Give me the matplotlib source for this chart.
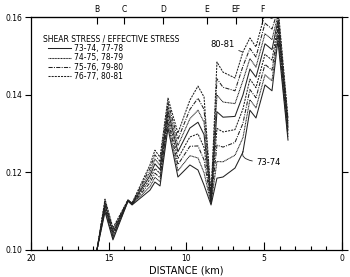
import matplotlib
matplotlib.use('Agg')
import matplotlib.pyplot as plt
from matplotlib.lines import Line2D

# distance stations along the profile (km)
distance_km = [15.76, 15.24, 14.73, 13.76, 13.50, 12.35, 12.03, 11.70, 11.19, 10.55, 9.78, 9.26,
               8.87, 8.42, 8.04, 7.65, 6.88, 6.37, 5.92, 5.53, 4.95, 4.50, 4.12, 3.47]

# shear stress / effective stress, one list per water year
s7374 = [0.100, 0.1098, 0.1026, 0.1126, 0.1116, 0.1154, 0.1175, 0.1165, 0.1314, 0.1188, 0.1219, 0.1206,
         0.1167, 0.1116, 0.1185, 0.1188, 0.1211, 0.1252, 0.1360, 0.1340, 0.1425, 0.1410, 0.1540, 0.1283]
s7475 = [0.100, 0.1103, 0.1030, 0.1126, 0.1117, 0.1163, 0.1187, 0.1176, 0.1325, 0.1204, 0.1243, 0.1237,
         0.1199, 0.1119, 0.1228, 0.1227, 0.1244, 0.1289, 0.1387, 0.1366, 0.1451, 0.1436, 0.1553, 0.1291]
s7576 = [0.100, 0.1107, 0.1035, 0.1127, 0.1117, 0.1173, 0.1198, 0.1186, 0.1336, 0.1220, 0.1267, 0.1268,
         0.1232, 0.1123, 0.1270, 0.1265, 0.1277, 0.1326, 0.1413, 0.1392, 0.1478, 0.1463, 0.1566, 0.1299]
s7677 = [0.100, 0.1112, 0.1039, 0.1127, 0.1118, 0.1182, 0.1210, 0.1197, 0.1347, 0.1236, 0.1291, 0.1299,
         0.1264, 0.1126, 0.1313, 0.1304, 0.1310, 0.1363, 0.1440, 0.1418, 0.1504, 0.1489, 0.1579, 0.1307]
s7778 = [0.100, 0.1117, 0.1044, 0.1128, 0.1119, 0.1191, 0.1222, 0.1207, 0.1358, 0.1253, 0.1314, 0.1329,
         0.1297, 0.1130, 0.1356, 0.1342, 0.1344, 0.1399, 0.1466, 0.1445, 0.1531, 0.1516, 0.1591, 0.1316]
s7879 = [0.100, 0.1121, 0.1048, 0.1128, 0.1119, 0.1200, 0.1234, 0.1218, 0.1369, 0.1269, 0.1338, 0.1360,
         0.1329, 0.1133, 0.1399, 0.1381, 0.1377, 0.1436, 0.1493, 0.1471, 0.1557, 0.1542, 0.1604, 0.1324]
s7980 = [0.100, 0.1126, 0.1053, 0.1129, 0.1120, 0.1210, 0.1245, 0.1228, 0.1380, 0.1285, 0.1362, 0.1391,
         0.1362, 0.1137, 0.1441, 0.1419, 0.1410, 0.1473, 0.1519, 0.1497, 0.1584, 0.1569, 0.1617, 0.1332]
s8081 = [0.100, 0.1131, 0.1057, 0.1129, 0.1121, 0.1219, 0.1257, 0.1239, 0.1391, 0.1301, 0.1386, 0.1422,
         0.1394, 0.1140, 0.1484, 0.1458, 0.1443, 0.1510, 0.1546, 0.1523, 0.1610, 0.1595, 0.1630, 0.1340]

series = [s7374, s7475, s7576, s7677, s7778, s7879, s7980, s8081]
legend_labels = ['73-74, 77-78', '74-75, 78-79', '75-76, 79-80', '76-77, 80-81']

# reach markers along the top
reach_km = [15.76, 14.0, 11.5, 8.68, 6.82, 5.14]
reach_labels = ['B', 'C', 'D', 'E', 'EF', 'F']

styles = ['-', (0, (1, 0.5)), (0, (4, 1.2, 1, 1.2)), (0, (2, 1))]
ink = '#222222'

plt.rcParams['font.family'] = 'DejaVu Sans'
fig = plt.figure(figsize=(3.5, 2.77), dpi=100)
ax = fig.add_axes([0.0886, 0.0975, 0.8884, 0.8411])

for i, s in enumerate(series):
    ax.plot(distance_km, s, color=ink, lw=0.75, ls=styles[i % 4])

ax.set_xlim(20, 0)
ax.set_ylim(0.10, 0.16)
ax.set_xticks([20, 15, 10, 5, 0])
ax.set_xticks(range(0, 21), minor=True)
ax.set_xticklabels(['20', '15', '10', '5', '0'], fontsize=5.5)
ax.set_yticks([0.10, 0.12, 0.14, 0.16])
ax.set_yticklabels(['0.10', '0.12', '0.14', '0.16'], fontsize=5.5)
ax.tick_params(axis='x', which='major', direction='in', length=6, width=0.8, pad=3)
ax.tick_params(axis='x', which='minor', direction='in', length=3, width=0.8)
ax.tick_params(axis='y', direction='out', length=4, width=0.8, right=True, pad=2)
for sp in ax.spines.values():
    sp.set_linewidth(0.9)
ax.set_xlabel('DISTANCE (km)', fontsize=7, labelpad=2)

top = ax.secondary_xaxis('top')
top.set_xticks(reach_km)
top.set_xticklabels(reach_labels, fontsize=5.5)
top.tick_params(direction='in', length=5, width=0.8, pad=2)

# legend: title flush left, entries indented
ax.text(0.04, 0.925, 'SHEAR STRESS / EFFECTIVE STRESS', transform=ax.transAxes,
        fontsize=5.5, ha='left', va='top')
handles = [Line2D([], [], color=ink, lw=0.75, ls=st) for st in styles]
ax.legend(handles, legend_labels, loc='upper left', bbox_to_anchor=(0.055, 0.885), frameon=False,
          fontsize=5.5, handlelength=3.0, handletextpad=0.4, labelspacing=0.05, borderpad=0,
          borderaxespad=0)

ax.annotate('80-81', xy=(6.4, 0.1510), xytext=(6.9, 0.1530), fontsize=6, ha='right', va='center',
            arrowprops=dict(arrowstyle='-', lw=0.6, color=ink, shrinkA=1, shrinkB=0))
ax.annotate('73-74', xy=(6.37, 0.1254), xytext=(5.5, 0.1226), fontsize=6, ha='left', va='center',
            arrowprops=dict(arrowstyle='-', lw=0.6, color=ink, shrinkA=1, shrinkB=0,
                            connectionstyle='angle3,angleA=0,angleB=70'))

fig.savefig('out.png', dpi=100)
